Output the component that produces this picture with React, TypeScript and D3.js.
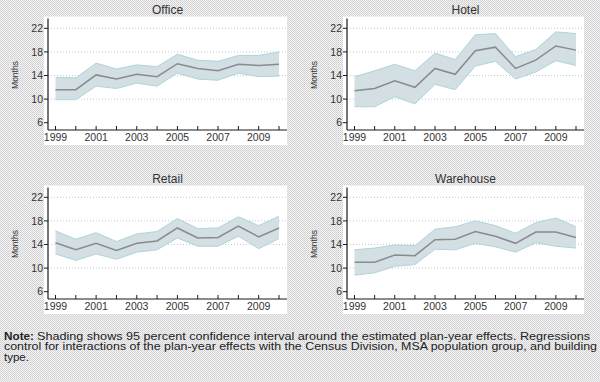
import React from "react";
import * as d3 from "d3";

const years = [1999, 2000, 2001, 2002, 2003, 2004, 2005, 2006, 2007, 2008, 2009, 2010];
const xTickLabels = [1999, 2001, 2003, 2005, 2007, 2009];
const yTicks = [6, 10, 14, 18, 22];
const gridTicks = [10, 14, 18, 22];

const officeMid = [11.6, 11.6, 14.1, 13.4, 14.2, 13.8, 16.0, 15.2, 14.8, 15.9, 15.7, 15.9];
const officeHi = [13.7, 13.6, 16.1, 15.1, 15.8, 15.5, 17.6, 16.6, 16.4, 17.4, 17.4, 18.0];
const officeLo = [9.9, 9.9, 12.2, 11.8, 12.7, 12.2, 14.4, 13.4, 13.2, 14.4, 13.8, 13.9];

const hotelMid = [11.4, 11.8, 13.1, 12.0, 15.2, 14.2, 18.2, 18.8, 15.2, 16.6, 19.0, 18.3];
const hotelHi = [13.8, 14.8, 15.9, 14.8, 17.8, 16.7, 20.9, 21.1, 17.2, 18.4, 21.4, 21.1];
const hotelLo = [8.7, 8.7, 10.4, 9.2, 12.5, 11.6, 15.6, 16.4, 13.4, 14.6, 16.5, 15.7];

const retailMid = [14.3, 13.1, 14.2, 13.0, 14.2, 14.6, 16.8, 15.1, 15.2, 17.1, 15.3, 16.8];
const retailHi = [16.3, 14.9, 16.0, 14.5, 15.8, 16.2, 18.4, 16.7, 16.8, 18.7, 17.2, 18.8];
const retailLo = [12.4, 11.3, 12.4, 11.5, 12.7, 13.1, 15.1, 13.7, 13.7, 15.4, 13.3, 15.0];

const wareMid = [11.0, 11.0, 12.2, 12.1, 14.8, 14.9, 16.2, 15.4, 14.2, 16.1, 16.1, 15.2];
const wareHi = [13.1, 13.4, 13.9, 13.8, 16.6, 17.0, 18.0, 17.2, 15.9, 17.7, 18.5, 17.0];
const wareLo = [8.8, 9.2, 10.3, 10.6, 13.2, 13.1, 14.2, 13.6, 12.7, 14.3, 13.7, 13.4];

const panelTitles = ["Office", "Hotel", "Retail", "Warehouse"];

const noteLabel = "Note:";
const noteLines = [
  "Shading shows 95 percent confidence interval around the estimated plan-year effects.  Regressions",
  "control for interactions of the plan-year effects with the Census Division, MSA population group, and building",
  "type.",
];

const FONT = "'Liberation Sans', Arial, sans-serif";

type PanelProps = {
  title: string;
  mid: number[];
  hi: number[];
  lo: number[];
  ox: number;
  oy: number;
  right: number;
};

function Panel({ title, mid, hi, lo, ox, oy, right }: PanelProps) {
  const x = d3.scaleLinear().domain([1999, 2010]).range([ox + 7.5, right - 8]);
  const y = d3.scaleLinear().domain([6, 22]).range([oy + 122.7, oy + 28.3]);
  const axisY = oy + 130;
  const top = oy + 18.5;
  const rows = years.map((yr, i) => ({ yr, m: mid[i], h: hi[i], l: lo[i] }));
  const area = d3
    .area<any>()
    .x((d) => x(d.yr))
    .y0((d) => y(d.l))
    .y1((d) => y(d.h));
  const hiLine = d3.line<any>().x((d) => x(d.yr)).y((d) => y(d.h));
  const loLine = d3.line<any>().x((d) => x(d.yr)).y((d) => y(d.l));
  const midLine = d3.line<any>().x((d) => x(d.yr)).y((d) => y(d.m));
  const cx = (ox + right) / 2;
  return (
    <g>
      <rect x={ox - 4} y={top - 2} width={right - ox + 4} height={axisY - top + 17} fill="#ffffff" />
      {gridTicks.map((t) => (
        <line
          key={t}
          x1={ox}
          x2={right}
          y1={y(t)}
          y2={y(t)}
          stroke="#bccdd4"
          strokeWidth={1}
          strokeDasharray="1,2"
        />
      ))}
      <path d={area(rows) || ""} fill="#d3dfe2" />
      <path d={hiLine(rows) || ""} fill="none" stroke="#acd5de" strokeWidth={1} />
      <path d={loLine(rows) || ""} fill="none" stroke="#acd5de" strokeWidth={1} />
      <path d={midLine(rows) || ""} fill="none" stroke="#868c91" strokeWidth={1.5} />
      <line x1={ox} x2={ox} y1={top} y2={axisY} stroke="#1a1a1a" strokeWidth={1.2} />
      <line x1={ox} x2={right} y1={axisY} y2={axisY} stroke="#1a1a1a" strokeWidth={1.2} />
      {yTicks.map((t) => (
        <g key={t}>
          <line x1={ox - 4} x2={ox} y1={y(t)} y2={y(t)} stroke="#1a1a1a" strokeWidth={1} />
          <text
            x={ox - 5}
            y={y(t)}
            dy="0.35em"
            textAnchor="end"
            fontSize={10.5}
            fill="#333"
            fontFamily={FONT}
          >
            {t}
          </text>
        </g>
      ))}
      {years.map((yr) => (
        <line key={yr} x1={x(yr)} x2={x(yr)} y1={axisY - 4} y2={axisY} stroke="#1a1a1a" strokeWidth={1} />
      ))}
      {xTickLabels.map((yr) => (
        <text
          key={yr}
          x={x(yr)}
          y={axisY + 11}
          textAnchor="middle"
          fontSize={10.5}
          fill="#333"
          fontFamily={FONT}
        >
          {yr}
        </text>
      ))}
      <text
        transform={`translate(${ox - 30},${oy + 75}) rotate(-90)`}
        textAnchor="middle"
        fontSize={8.5}
        fill="#333"
        fontFamily={FONT}
      >
        Months
      </text>
      <text x={cx} y={oy + 14} textAnchor="middle" fontSize={12} fill="#333" fontFamily={FONT}>
        {title}
      </text>
    </g>
  );
}

export default function App() {
  return (
    <svg
      width={600}
      height={382}
      style={{ position: "absolute", left: 0, top: 0, display: "block" }}
    >
      <defs>
        <pattern id="bgPat" width={2} height={2} patternUnits="userSpaceOnUse">
          <rect width={2} height={2} fill="#f3f3f3" />
          <rect x={0} y={0} width={1} height={1} fill="#cfcfd2" />
          <rect x={1} y={1} width={1} height={1} fill="#d8d8da" />
        </pattern>
      </defs>
      <rect width={600} height={382} fill="url(#bgPat)" />
      <Panel title={panelTitles[0]} mid={officeMid} hi={officeHi} lo={officeLo} ox={48} oy={0} right={287} />
      <Panel title={panelTitles[1]} mid={hotelMid} hi={hotelHi} lo={hotelLo} ox={347} oy={0} right={584} />
      <Panel title={panelTitles[2]} mid={retailMid} hi={retailHi} lo={retailLo} ox={48} oy={169} right={287} />
      <Panel title={panelTitles[3]} mid={wareMid} hi={wareHi} lo={wareLo} ox={347} oy={169} right={584} />
      <text x={4} y={339.5} fontSize={11.5} fontWeight="bold" fill="#222" fontFamily={FONT} textLength={30} lengthAdjust="spacingAndGlyphs">
        {noteLabel}
      </text>
      <text x={37} y={339.5} fontSize={11.5} fill="#222" fontFamily={FONT} textLength={553} lengthAdjust="spacingAndGlyphs">
        {noteLines[0]}
      </text>
      <text x={4} y={350} fontSize={11.5} fill="#222" fontFamily={FONT} textLength={593} lengthAdjust="spacingAndGlyphs">
        {noteLines[1]}
      </text>
      <text x={4} y={360.5} fontSize={11.5} fill="#222" fontFamily={FONT}>
        {noteLines[2]}
      </text>
    </svg>
  );
}
